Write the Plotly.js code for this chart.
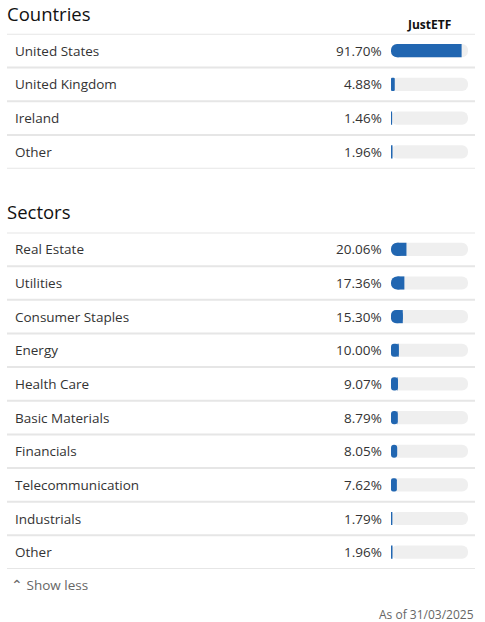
<!DOCTYPE html>
<html>
<head>
<meta charset="utf-8">
<script src="https://cdn.plot.ly/plotly-3.0.1.min.js"></script>
<style>
html,body{margin:0;padding:0;background:#fff;}
#chart{width:485px;height:622px;}
</style>
</head>
<body>
<div id="chart"></div>
<script>
// ---- data ----
const countryNames = ["United States", "United Kingdom", "Ireland", "Other"];
const countryValues = [91.70, 4.88, 1.46, 1.96];
const sectorNames = ["Real Estate", "Utilities", "Consumer Staples", "Energy", "Health Care",
  "Basic Materials", "Financials", "Telecommunication", "Industrials", "Other"];
const sectorValues = [20.06, 17.36, 15.30, 10.00, 9.07, 8.79, 8.05, 7.62, 1.79, 1.96];
const columnHeader = "JustETF";
const sectionTitles = ["Countries", "Sectors"];
const footerToggle = "Show less";
const footerDate = "As of 31/03/2025";

// ---- layout helpers ----
const W = 485, H = 622;
const px = x => x / W;
const py = y => 1 - y / H;
const FILL = "#2166b1", TRACK = "#efefef", SEP = "#e6e6e6";
const FONT = "Open Sans, sans-serif";
const BARW = 0.39;
const TRACK_MAX = 100;
const OFFSET = -50;              // track runs from OFFSET to OFFSET + 100 on the axis
const TRACK_PX = 77, BAR_PX = 13;
const CAP = BAR_PX / TRACK_PX * TRACK_MAX;   // length of the rounded cap, in axis units

const data = [];
const annotations = [];
const shapes = [];

function rowsFor(names, values, xa, ya) {
  const common = {type: "bar", orientation: "h", y: names, xaxis: xa, yaxis: ya,
    width: BARW, hoverinfo: "skip", showlegend: false};
  // grey track, rounded at both ends
  data.push(Object.assign({}, common, {x: names.map(() => TRACK_MAX), base: names.map(() => OFFSET),
    marker: {color: TRACK, line: {width: 0}, cornerradius: 7}}));
  // blue fill: rounded left cap ...
  data.push(Object.assign({}, common, {x: values.map(v => Math.min(v, CAP)), base: values.map(() => OFFSET),
    marker: {color: FILL, line: {width: 0}, cornerradius: 7}}));
  // ... plus a square-ended body up to the value
  data.push(Object.assign({}, common, {x: values.map(v => Math.max(v - CAP / 2, 0)),
    base: values.map(() => OFFSET + CAP / 2),
    marker: {color: FILL, line: {width: 0}, cornerradius: 0}}));

  names.forEach((nm, i) => {
    annotations.push({xref: "paper", yref: ya, x: px(12.5), y: nm, xanchor: "left", yanchor: "middle",
      text: nm, showarrow: false, font: {family: FONT, size: 13.5, color: "#333"}});
    annotations.push({xref: "paper", yref: ya, x: px(384), y: nm, xanchor: "right", yanchor: "middle",
      text: values[i].toFixed(2) + "%", showarrow: false, font: {family: FONT, size: 13.5, color: "#333"}});
  });
  for (let i = 0; i <= names.length; i++) {
    shapes.push({type: "line", xref: "paper", yref: ya, x0: px(7), x1: px(475),
      y0: i - 0.5, y1: i - 0.5, line: {color: SEP, width: 2}, layer: "below"});
  }
}
rowsFor(countryNames, countryValues, "x", "y");
rowsFor(sectorNames, sectorValues, "x2", "y2");

annotations.push(
  {xref: "paper", yref: "paper", x: px(5), y: py(13), xanchor: "left", yanchor: "middle",
   text: sectionTitles[0], showarrow: false, font: {family: FONT, size: 18.5, color: "#111", weight: 500}},
  {xref: "paper", yref: "paper", x: px(429), y: py(24), xanchor: "center", yanchor: "middle",
   text: "<b>" + columnHeader + "</b>", showarrow: false, font: {family: FONT, size: 12, color: "#111"}},
  {xref: "paper", yref: "paper", x: px(5), y: py(212), xanchor: "left", yanchor: "middle",
   text: sectionTitles[1], showarrow: false, font: {family: FONT, size: 18.5, color: "#111", weight: 500}},
  {xref: "paper", yref: "paper", x: px(9), y: py(585), xanchor: "left", yanchor: "middle",
   text: "⌃ " + footerToggle, showarrow: false, font: {family: FONT, size: 13.5, color: "#666"}},
  {xref: "paper", yref: "paper", x: px(476), y: py(614), xanchor: "right", yanchor: "middle",
   text: footerDate, showarrow: false, font: {family: FONT, size: 12, color: "#666"}}
);

const axX = {domain: [px(391), px(468)], range: [OFFSET, OFFSET + TRACK_MAX], visible: false, fixedrange: true};
const layout = {
  width: W, height: H,
  margin: {l: 0, r: 0, t: 0, b: 0},
  paper_bgcolor: "#fff", plot_bgcolor: "rgba(0,0,0,0)",
  barmode: "overlay",
  font: {family: FONT},
  xaxis: Object.assign({}, axX, {anchor: "y"}),
  xaxis2: Object.assign({}, axX, {anchor: "y2"}),
  yaxis: {domain: [py(168.7), py(33.7)], type: "category", range: [countryNames.length - 0.5, -0.5],
    visible: false, anchor: "x", fixedrange: true},
  yaxis2: {domain: [py(569), py(232.5)], type: "category", range: [sectorNames.length - 0.5, -0.5],
    visible: false, anchor: "x2", fixedrange: true},
  annotations: annotations,
  shapes: shapes
};
Plotly.newPlot("chart", data, layout, {displayModeBar: false, staticPlot: true});
</script>
</body>
</html>
